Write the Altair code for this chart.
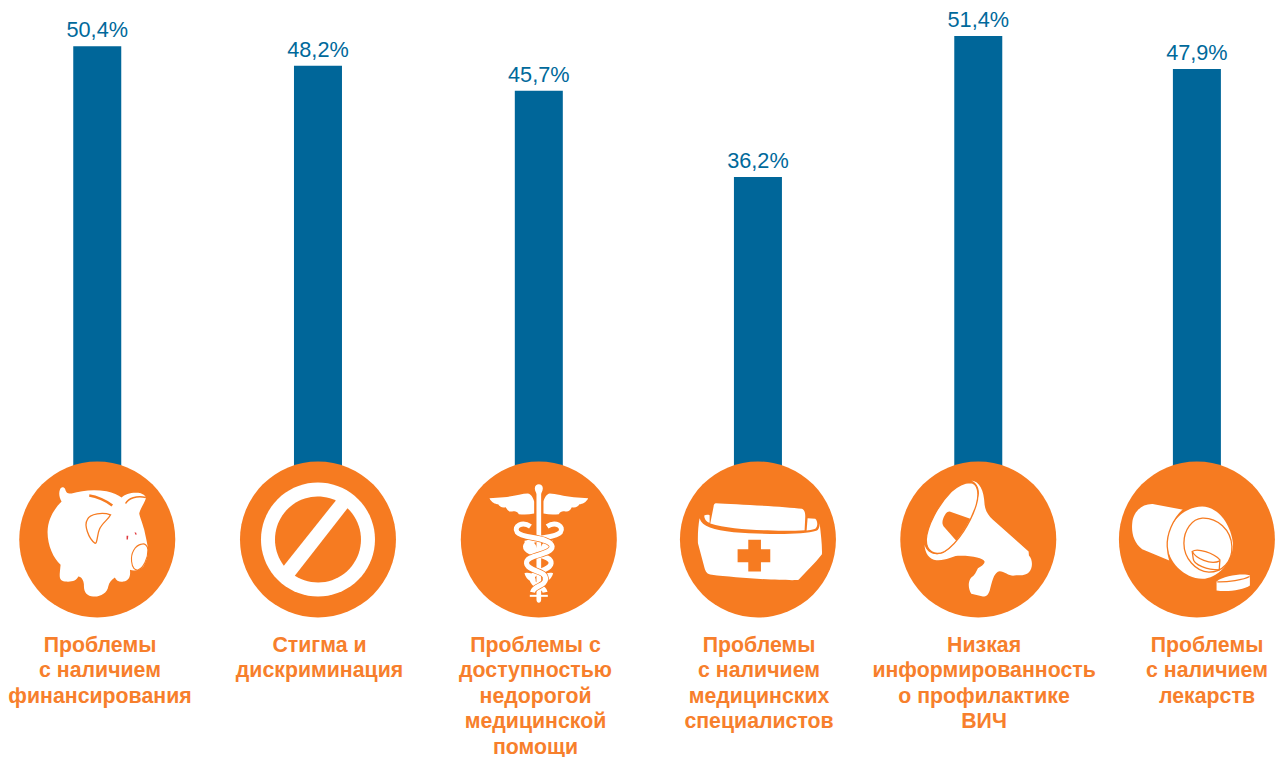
import re
import math
import altair as alt

CATEGORIES = ["Финансирование", "Стигма", "Доступность", "Специалисты", "Информированность", "Лекарства"]
VALUES = [50.3, 48.2, 45.5, 36.2, 51.4, 47.85]
VALUE_LABELS = ["50,4%", "48,2%", "45,7%", "36,2%", "51,4%", "47,9%"]
LABELS = [
    "Проблемы\nс наличием\nфинансирования",
    "Стигма и\nдискриминация",
    "Проблемы с\nдоступностью\nнедорогой\nмедицинской\nпомощи",
    "Проблемы\nс наличием\nмедицинских\nспециалистов",
    "Низкая\nинформированность\nо профилактике\nВИЧ",
    "Проблемы\nс наличием\nлекарств",
]

BLUE = "#006699"
TEXT_BLUE = "#00699B"
ORANGE = "#F67B21"
LABEL_ORANGE = "#F77F2C"
WHITE = "#FFFFFF"
RED = "#E0393E"

W, H = 1267, 749
CENTRE_NUDGE = [0.5, 0.4, 0.4, -1.3, -1.8, -4.0]
LABEL_DX = [3.25, 1.9, -2.9, -0.2, 4.0, 6.1]
CIRCLE_Y = 531.5
LABEL_Y = 626.5
DIAM = 156

x_scale = alt.Scale(type="point", domain=CATEGORIES, range=[88.75, 1192.9], padding=0)
y_scale = alt.Scale(domain=[-26.29, 54.42], range=[H, 0], nice=False, zero=False)


def rescale(path, cx, cy):
    """Icon outlines are drafted on a 3x grid; symbols want radius-relative units."""
    def sub(m):
        return f"{(float(m.group(1)) - cx) / 234:.4f},{(float(m.group(2)) - cy) / 234:.4f}"
    return re.sub(r"(-?[\d.]+),(-?[\d.]+)", sub, path)


def arc(cx, cy, r, a0, a1, n=36):
    pts = []
    for k in range(n + 1):
        a = math.radians(a0 + (a1 - a0) * k / n)
        pts.append(f"{cx + r * math.cos(a):.1f},{cy + r * math.sin(a):.1f}")
    return "M" + " L".join(pts) + " Z"


def mirror(path, axis):
    def sub(m):
        return f"{2 * axis - float(m.group(1)):.1f},{m.group(2)}"
    return re.sub(r"(-?[\d.]+),(-?[\d.]+)", sub, path)


# (path, fill, stroke, strokeWidth)
PIG = [
    ("M150,105 C152,95 162,95 166,103 C168,112 172,117 185,116 C215,107 250,103 290,109 C310,113 325,120 335,128 C345,118 365,112 385,114 C395,115 408,122 408,130 C405,142 393,158 388,175 C389,185 398,205 403,225 C406,240 410,255 412,268 C416,285 415,310 400,335 C390,347 372,350 360,345 C362,360 360,378 340,380 C330,382 318,378 315,368 C305,375 298,382 295,395 C292,415 270,427 250,425 C232,424 221,415 222,390 C222,378 215,365 205,365 C200,378 185,382 165,380 C150,378 148,370 150,350 L152,330 C130,310 112,270 113,230 C114,195 130,165 155,140 C148,128 146,115 150,105 Z", WHITE, None, 0),
    ("M302,180 C280,172 240,175 232,195 C222,210 235,250 255,265 C262,268 262,240 268,225 C275,205 295,195 302,180 Z", None, ORANGE, 1.3),
    ("M238,122 C260,125 290,138 307,152", None, ORANGE, 2.4),
    ("M347,146 C355,130 380,122 408,128", None, ORANGE, 1.5),
    ("M395,268 C375,272 362,295 365,320 C367,340 375,347 385,345 C400,340 415,310 414,285 C413,272 405,265 395,268 Z", WHITE, ORANGE, 1.1),
    ("M350,243 L355,243 L354,254 L350,254 Z", RED, None, 0),
    ("M374,232 L379,234 L380,240 L376,239 Z", RED, None, 0),
]

NOPE = [
    (arc(924, 254, 171, 0, 359.9, 72), WHITE, None, 0),
    (arc(924, 254, 129, -65.4, -217.4), ORANGE, None, 0),
    (arc(924, 254, 129, -46.6, 122.6), ORANGE, None, 0),
]

LEFT_WING = "M117,130 L160,127 C190,125 215,116 232,116 C242,118 248,128 251,140 L251,176 C235,180 218,180 205,178 C200,168 192,168 185,170 C175,172 170,165 166,157 C155,160 147,155 143,148 C135,148 122,142 117,130 Z"
LEFT_LOBES = "M222,258 C240,252 258,262 262,290 C245,295 225,290 222,258 Z M222,355 C240,350 255,360 256,378 C240,382 228,375 222,355 Z"
SNAKE = "M240,215 C215,198 188,215 200,232 C215,252 300,245 305,275 C305,302 225,298 228,325 C232,352 290,345 285,375 C282,395 250,392 246,412"
CADUCEUS = [
    ("M253,100 C253,84 277,84 277,100 C277,110 272,113 272,118 L272,435 C272,447 258,447 258,435 L258,118 C258,113 253,110 253,100 Z", WHITE, None, 0),
    (LEFT_WING, WHITE, None, 0),
    (mirror(LEFT_WING, 265), WHITE, None, 0),
    (LEFT_LOBES, WHITE, None, 0),
    (mirror(LEFT_LOBES, 265), WHITE, None, 0),
    ("M238,420 L292,420 L292,426 L238,426 Z", WHITE, None, 0),
    (mirror(SNAKE, 265), None, WHITE, 5.0),
    (SNAKE, None, ORANGE, 6.4),
    (SNAKE, None, WHITE, 5.0),
]

KIT = [
    ("M797,145 C850,148 1000,155 1055,162 C1063,165 1065,175 1065,185 L1063,226 C1000,230 850,228 780,206 L790,155 C790,150 793,145 797,145 Z", WHITE, None, 0),
    ("M762,182 C766,179 774,179 778,181 L778,204 C770,202 762,194 762,182 Z", WHITE, None, 0),
    ("M1072,190 L1095,192 C1103,200 1103,215 1095,222 C1085,226 1075,227 1069,227 Z", WHITE, None, 0),
    ("M748,190 C755,215 790,225 850,232 C950,240 1060,240 1098,228 C1105,225 1108,218 1108,205 C1112,240 1116,270 1115,298 C1095,325 1065,352 1045,375 C1030,379 860,370 785,360 C770,358 766,350 763,340 L743,265 C742,240 744,210 748,190 Z", WHITE, None, 0),
    ("M894,255 L932,255 L932,283 L960,283 L960,322 L932,322 L932,350 L894,350 L894,322 L862,322 L862,283 L894,283 Z", ORANGE, None, 0),
]

HORN = [
    ("M265,77 C290,80 303,105 305,150 C308,170 315,180 330,195 L437,290 L438,302 C450,315 450,340 438,352 C425,365 405,360 395,362 C380,365 365,350 350,349 C335,352 330,370 322,400 C318,420 310,425 300,425 L265,417 C255,400 255,380 265,368 C275,362 280,350 285,340 C295,335 305,328 305,320 C300,310 270,302 225,303 C205,305 190,318 160,316 C140,315 125,295 125,270 C130,290 150,305 180,295 C220,275 280,170 288,115 C288,95 278,82 265,77 Z", WHITE, None, 0),
    ("M262,83 C285,85 290,115 280,150 C265,200 225,265 185,290 C155,305 130,290 130,255 C132,215 165,150 205,110 C225,92 245,83 262,83 Z", WHITE, ORANGE, 1.3),
    ("M200,170 L262,192 C250,215 235,240 220,258 L185,218 C175,208 178,195 185,182 C190,172 195,170 200,170 Z", ORANGE, None, 0),
]

PILLS = [
    ("M830,148 L918,165 C885,195 870,240 872,275 C872,290 875,310 878,318 L795,283 C770,265 762,235 765,205 C768,170 795,145 830,148 Z", WHITE, None, 0),
    ("M975,155 C1020,155 1060,205 1067,265 C1070,320 1020,372 975,372 C920,370 870,320 870,265 C870,205 920,155 975,155 Z", WHITE, None, 0),
    ("M918,165 C885,195 868,240 870,275 C871,290 874,305 878,318", None, ORANGE, 1.3),
    ("M975,190 C1020,188 1062,225 1064,275 C1066,320 1035,352 995,352 C955,350 920,310 920,265 C920,225 945,192 975,190 Z", None, ORANGE, 1.3),
    ("M945,290 C960,278 1010,295 1028,315 L1026,345 C990,345 950,330 948,312 Z", None, ORANGE, 1.3),
    ("M945,290 C955,310 1000,332 1028,318", None, ORANGE, 1.3),
    ("M1018,380 C1040,362 1100,355 1118,362 L1118,392 C1100,405 1050,412 1018,407 Z", WHITE, None, 0),
    ("M1020,381 C1050,382 1100,375 1117,365", None, ORANGE, 1.3),
]

ICONS = [(PIG, 262, 254), (NOPE, 924, 254), (CADUCEUS, 265, 254), (KIT, 923, 254), (HORN, 286, 254), (PILLS, 959, 254)]

x_enc = alt.X("cat:N", scale=x_scale, axis=None, title=None)
y_fixed = alt.value(CIRCLE_Y)

layers = []
for cat, v, vl, nudge in zip(CATEGORIES, VALUES, VALUE_LABELS, CENTRE_NUDGE):
    base = alt.Chart(alt.Data(values=[{"cat": cat, "v": v, "vl": vl}]))
    layers.append(
        base.mark_bar(width=48, color=BLUE, xOffset=nudge).encode(
            x=x_enc, y=alt.Y("v:Q", scale=y_scale, axis=None, title=None), y2=alt.datum(0)
        )
    )
    layers.append(
        base.mark_text(font="Liberation Sans", fontSize=21.7, color=TEXT_BLUE, baseline="alphabetic",
                       align="center", dy=-9, dx=nudge).encode(
            x=x_enc, y=alt.Y("v:Q", scale=y_scale, axis=None, title=None), text="vl:N"
        )
    )

for cat, nudge, (icon, cx, cy) in zip(CATEGORIES, CENTRE_NUDGE, ICONS):
    base = alt.Chart(alt.Data(values=[{"cat": cat}]))
    layers.append(
        base.mark_point(shape="circle", size=DIAM**2, filled=True, fill=ORANGE, opacity=1, xOffset=nudge).encode(
            x=x_enc, y=y_fixed
        )
    )
    for path, fill, stroke, sw in icon:
        kw = {"shape": rescale(path, cx, cy), "size": DIAM**2, "opacity": 1, "xOffset": nudge}
        if fill:
            kw.update(filled=True, fill=fill)
        else:
            kw.update(filled=False, fill="transparent")
        if stroke:
            kw.update(stroke=stroke, strokeWidth=sw)
        else:
            kw.update(strokeWidth=0)
        layers.append(base.mark_point(**kw).encode(x=x_enc, y=y_fixed))

for cat, label, dx in zip(CATEGORIES, LABELS, LABEL_DX):
    base = alt.Chart(alt.Data(values=[{"cat": cat, "label": label}]))
    layers.append(
        base.mark_text(font="Liberation Sans", fontWeight="bold", fontSize=21.3, color=LABEL_ORANGE,
                       align="center", baseline="top", lineBreak="\n", lineHeight=25.5, dx=dx).encode(
            x=x_enc, y=alt.value(LABEL_Y), text="label:N"
        )
    )

chart = (
    alt.layer(*layers)
    .properties(width=W, height=H, padding=0, autosize=alt.AutoSizeParams(type="none"), background="white")
    .configure_view(stroke=None)
)

chart.save("out.html", embed_options={"renderer": "svg", "actions": False})
